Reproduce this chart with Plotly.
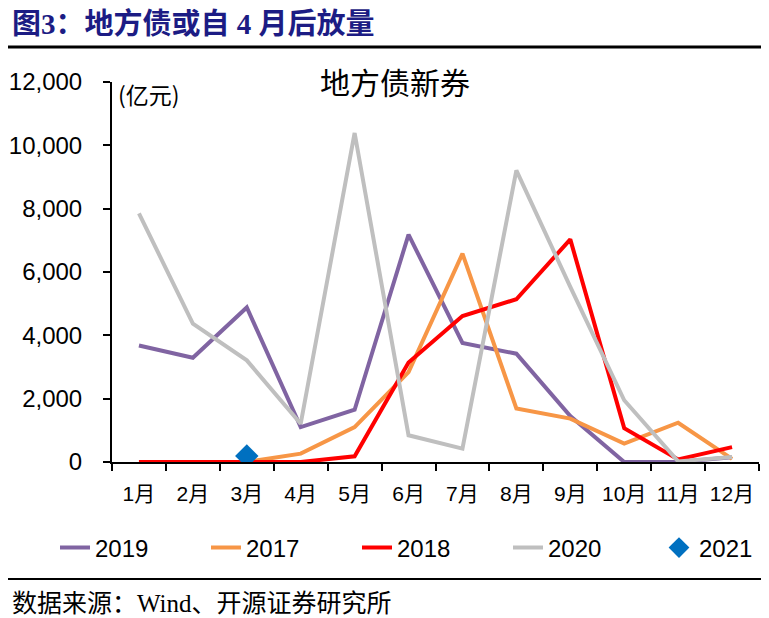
import plotly.graph_objects as go

months = ["1月", "2月", "3月", "4月", "5月", "6月", "7月", "8月", "9月", "10月", "11月", "12月"]
v2019 = [3680, 3290, 4880, 1100, 1650, 7180, 3760, 3420, 1450, 0, 0, 150]
v2017 = [0, 0, 0, 265, 1100, 2840, 6580, 1690, 1370, 580, 1240, 100]
v2018 = [0, 0, 0, 0, 180, 3140, 4610, 5140, 7030, 1070, 80, 470]
v2020 = [7850, 4370, 3210, 1210, 10390, 843, 423, 9210, 5530, 1950, 20, 160]
v2021 = [None, None, 190, None, None, None, None, None, None, None, None, None]

# page body has an 8px margin; work in screen coordinates and shift
OFF = 8
W, H = 769 - OFF, 618 - OFF
L, R, T, B = 112 - OFF, 10, 82 - OFF, 156
PW, PH = W - L - R, H - T - B


def px(x):
    return (x - OFF - L) / PW


def py(y):
    return (H - B - (y - OFF)) / PH


TICKFONT = "Liberation Sans, Arial, Noto Sans CJK SC, sans-serif"
CJK = "Noto Sans CJK SC, sans-serif"
SERIF = "Liberation Serif, Noto Sans CJK SC, serif"

fig = go.Figure()
series = [("2019", v2019, "#8064A2"), ("2017", v2017, "#F79646"),
          ("2018", v2018, "#FF0000"), ("2020", v2020, "#BFBFBF")]
for name, vals, col in series:
    fig.add_trace(go.Scatter(x=months, y=vals, mode="lines", name=name,
                             line=dict(color=col, width=4)))
fig.add_trace(go.Scatter(x=months, y=v2021, mode="markers", name="2021",
                         marker=dict(symbol="diamond", size=18, color="#0070C0")))

fig.update_layout(
    width=W, height=H,
    margin=dict(l=L, r=R, t=T, b=B, autoexpand=False),
    paper_bgcolor="white", plot_bgcolor="white",
    showlegend=True,
    legend=dict(orientation="h", x=px(55), xanchor="left", y=py(548), yanchor="middle",
                entrywidth=106, entrywidthmode="pixels",
                font=dict(family=TICKFONT, size=24, color="black"),
                bgcolor="rgba(0,0,0,0)", tracegroupgap=0),
    xaxis=dict(type="category", range=[-0.5, 11.5], showgrid=False, zeroline=False,
               automargin=False, tickangle=0,
               showline=True, linecolor="black", linewidth=2,
               ticks="outside", tickson="boundaries", ticklen=7, tickwidth=2, tickcolor="black",
               tickfont=dict(family=TICKFONT, size=21, color="black"),
               ticklabelstandoff=12),
    yaxis=dict(range=[0, 12000], dtick=2000, tickformat=",d", showgrid=False, zeroline=False,
               automargin=False,
               showline=True, linecolor="black", linewidth=2,
               ticks="outside", ticklen=7, tickwidth=2, tickcolor="black",
               tickfont=dict(family=TICKFONT, size=24, color="black"),
               ticklabelstandoff=16),
    annotations=[
        dict(text="<b>图3：地方债或自 4 月后放量</b>", x=px(10), y=py(24), xref="paper", yref="paper",
             xanchor="left", yanchor="middle", showarrow=False,
             font=dict(family=SERIF, size=29, color="#1C1C84")),
        dict(text="地方债新券", x=px(395), y=py(81), xref="paper", yref="paper",
             xanchor="center", yanchor="middle", showarrow=False,
             font=dict(family=CJK, size=30, color="black")),
        dict(text="(亿元)", x=px(116), y=py(94), xref="paper", yref="paper",
             xanchor="left", yanchor="middle", showarrow=False,
             font=dict(family=CJK, size=23, color="black")),
        dict(text="数据来源：Wind、开源证券研究所", x=px(10), y=py(603), xref="paper", yref="paper",
             xanchor="left", yanchor="middle", showarrow=False,
             font=dict(family=SERIF, size=25, color="black")),
    ],
    shapes=[
        dict(type="line", xref="paper", yref="paper", x0=px(8), x1=px(769), y0=py(47), y1=py(47),
             line=dict(color="black", width=3)),
        dict(type="line", xref="paper", yref="paper", x0=px(8), x1=px(769), y0=py(579), y1=py(579),
             line=dict(color="black", width=2)),
    ],
)

fig.write_html("out.html")
